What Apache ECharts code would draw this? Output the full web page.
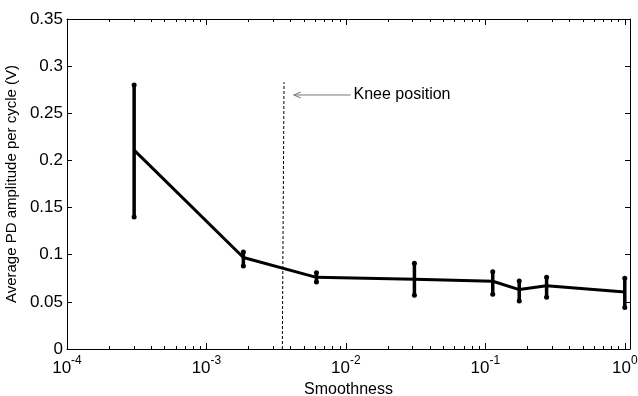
<!DOCTYPE html>
<html><head><meta charset="utf-8">
<script src="https://cdn.jsdelivr.net/npm/echarts@6/dist/echarts.min.js"></script>
<style>html,body{margin:0;padding:0;background:#fff}#c{width:638px;height:396px}</style>
</head><body><div id="c"></div>
<script>
// ---- data ----
const smoothness = [3.03e-4, 1.84e-3, 6.15e-3, 0.031, 0.113, 0.175, 0.275, 1.0];
const meanAmp    = [0.211, 0.097, 0.076, 0.074, 0.0718, 0.063, 0.067, 0.0605];
const lowAmp     = [0.140, 0.088, 0.071, 0.057, 0.058, 0.051, 0.055, 0.044];
const highAmp    = [0.280, 0.103, 0.081, 0.091, 0.082, 0.072, 0.076, 0.075];
const xDecades   = [1e-4, 1e-3, 1e-2, 1e-1, 1];
const yTickVals  = [0, 0.05, 0.1, 0.15, 0.2, 0.25, 0.3, 0.35];
const kneeX      = [3.5e-3, 3.6e-3];
const kneeY      = [0, 0.283];
const arrowX     = [4.23e-3, 0.0108];
const arrowY     = 0.2694;
const kneeLabel  = 'Knee position';
const xName = 'Smoothness';
const yName = 'Average PD amplitude per cycle (V)';

// minor tick positions of the log axis (2..9 in each decade)
const minorTicks = [];
for (let d = 0; d < xDecades.length - 1; d++) {
  for (let m = 2; m <= 9; m++) minorTicks.push(m * xDecades[d]);
}

const FONT = 'Liberation Sans, Arial, Helvetica, sans-serif';
const chart = echarts.init(document.getElementById('c'), null, {renderer: 'canvas'});

function xLabel(v) {
  const lg = Math.log10(v);
  const e = Math.round(lg);
  if (Math.abs(lg - e) > 1e-6) return '';
  return '{b|10}{s|' + e + '}';
}

const option = {
  backgroundColor: '#fff',
  animation: false,
  grid: {left: 67, right: 8, top: 19, bottom: 47, containLabel: false, outerBoundsMode: 'none'},
  xAxis: [{
    type: 'log', logBase: 10, min: xDecades[0], max: 1.09, interval: 1,
    position: 'bottom',
    axisLine: {show: true, onZero: false, lineStyle: {color: '#000', width: 1}},
    axisTick: {show: true, inside: true, length: 6, lineStyle: {color: '#000'}},
    splitLine: {show: false},
    axisLabel: {
      margin: 6, color: '#000', fontFamily: FONT,
      formatter: xLabel,
      rich: {
        b: {fontSize: 17, fontFamily: FONT, color: '#000', lineHeight: 22, verticalAlign: 'bottom'},
        s: {fontSize: 12, fontFamily: FONT, color: '#000', lineHeight: 12, verticalAlign: 'top'}
      }
    },
    name: xName, nameLocation: 'middle', nameGap: 22,
    nameTextStyle: {fontSize: 16, fontFamily: FONT, color: '#000'}
  }, {
    type: 'log', logBase: 10, min: xDecades[0], max: 1.09, interval: 1,
    position: 'top',
    axisLine: {show: true, onZero: false, lineStyle: {color: '#000', width: 1}},
    axisTick: {show: true, inside: true, length: 6, lineStyle: {color: '#000'}},
    axisLabel: {show: false}, splitLine: {show: false}
  }],
  yAxis: [{
    type: 'value', min: 0, max: 0.35, interval: 0.05,
    position: 'left',
    axisLine: {show: true, onZero: false, lineStyle: {color: '#000', width: 1}},
    axisTick: {show: true, inside: true, length: 5, lineStyle: {color: '#000'}},
    splitLine: {show: false},
    axisLabel: {margin: 4, fontSize: 17, fontFamily: FONT, color: '#000'},
    name: yName, nameLocation: 'middle', nameGap: 46,
    nameTextStyle: {fontSize: 15, fontFamily: FONT, color: '#000'}
  }, {
    type: 'value', min: 0, max: 0.35, interval: 0.05,
    position: 'right',
    axisLine: {show: true, onZero: false, lineStyle: {color: '#000', width: 1}},
    axisTick: {show: true, inside: true, length: 5, lineStyle: {color: '#000'}},
    axisLabel: {show: false}, splitLine: {show: false}
  }],
  series: [
    {
      type: 'custom', name: 'minor', xAxisIndex: 0, yAxisIndex: 0, silent: true, clip: false,
      data: minorTicks.map(v => [v]),
      renderItem: function (params, api) {
        const b = api.coord([api.value(0), 0]);
        const t = api.coord([api.value(0), 0.35]);
        const x = Math.round(b[0]) + 0.5;
        return {type: 'group', children: [
          {type: 'line', shape: {x1: x, y1: b[1], x2: x, y2: b[1] - 3}, style: {stroke: '#000', lineWidth: 1}},
          {type: 'line', shape: {x1: x, y1: t[1], x2: x, y2: t[1] + 3}, style: {stroke: '#000', lineWidth: 1}}
        ]};
      }
    },
    {
      type: 'custom', name: 'knee', silent: true, clip: false,
      data: [[0]],
      renderItem: function (params, api) {
        const k0 = api.coord([kneeX[0], kneeY[0]]);
        const k1 = api.coord([kneeX[1], kneeY[1]]);
        const a0 = api.coord([arrowX[0], arrowY]);
        const a1 = api.coord([arrowX[1], arrowY]);
        return {type: 'group', children: [
          {type: 'line', shape: {x1: k0[0], y1: k0[1], x2: k1[0], y2: k1[1]},
            style: {stroke: '#000', lineWidth: 1, lineDash: [3, 2]}},
          {type: 'line', shape: {x1: a0[0], y1: a0[1], x2: a1[0], y2: a1[1]},
            style: {stroke: '#777', lineWidth: 1}},
          {type: 'polyline', shape: {points: [[a0[0] + 7, a0[1] - 3], [a0[0], a0[1]], [a0[0] + 7, a0[1] + 3]]},
            style: {stroke: '#777', lineWidth: 1, fill: null}},
          {type: 'text', x: a1[0] + 3, y: a1[1],
            style: {text: kneeLabel, fontSize: 16, fontFamily: FONT, fill: '#000',
              align: 'left', verticalAlign: 'middle'}}
        ]};
      }
    },
    {
      type: 'line', name: 'mean', symbol: 'none',
      data: smoothness.map((x, i) => [x, meanAmp[i]]),
      lineStyle: {color: '#000', width: 3}, z: 3
    },
    {
      type: 'custom', name: 'errorbars', clip: false, z: 4,
      data: smoothness.map((x, i) => [x, lowAmp[i], highAmp[i]]),
      renderItem: function (params, api) {
        const lo = api.coord([api.value(0), api.value(1)]);
        const hi = api.coord([api.value(0), api.value(2)]);
        return {type: 'group', children: [
          {type: 'line', shape: {x1: lo[0], y1: lo[1], x2: hi[0], y2: hi[1]},
            style: {stroke: '#000', lineWidth: 3.5}},
          {type: 'circle', shape: {cx: lo[0], cy: lo[1], r: 2.5}, style: {fill: '#000'}},
          {type: 'circle', shape: {cx: hi[0], cy: hi[1], r: 2.5}, style: {fill: '#000'}}
        ]};
      }
    }
  ]
};
chart.setOption(option);
</script>
</body></html>
